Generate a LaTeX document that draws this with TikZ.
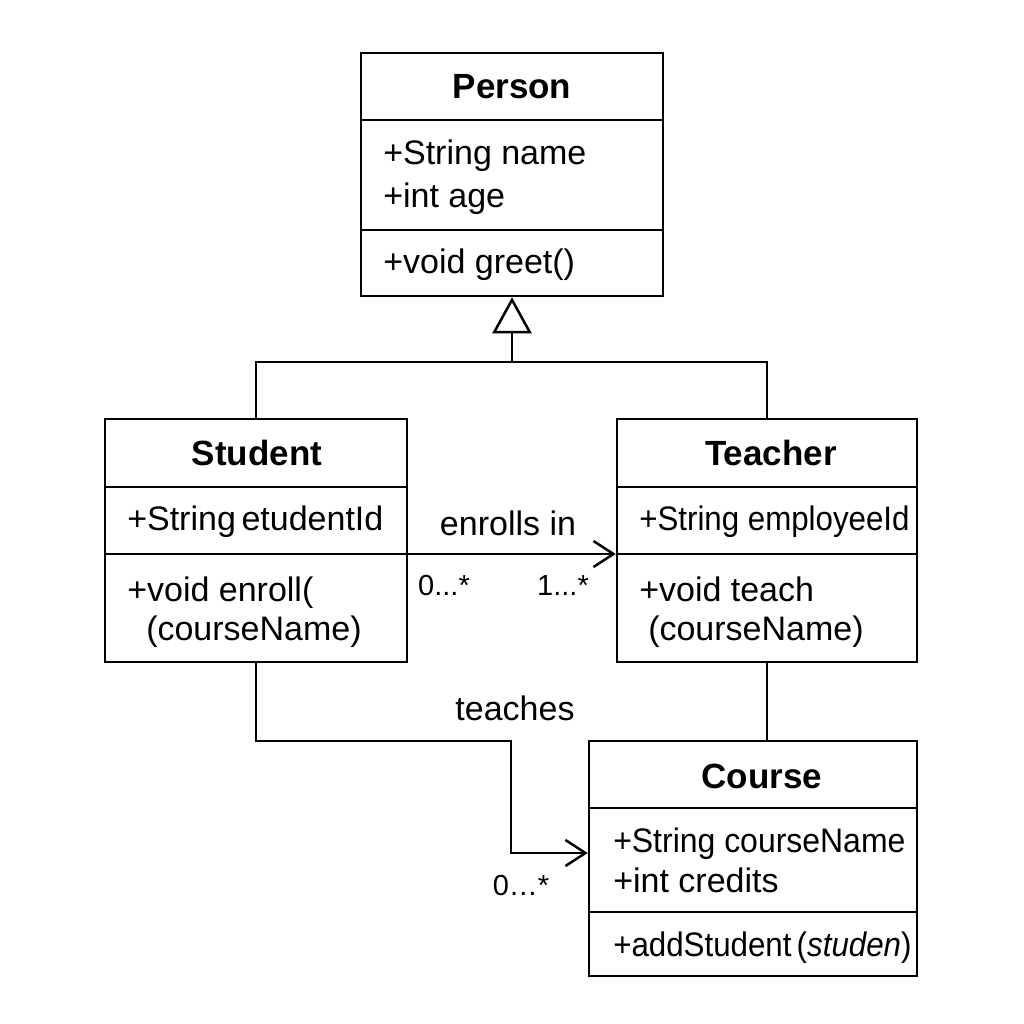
\documentclass[tikz,border=0pt]{standalone}
\usepackage{fontspec}
\setmainfont{Liberation Sans}
\usetikzlibrary{arrows.meta}

\begin{document}
\begin{tikzpicture}[line width = 2.5pt,
        classbox/.style = {draw, rectangle, inner sep = 0pt},
        title/.style = {anchor = base, font = \fontsize{35}{42}\selectfont\bfseries},
        member/.style = {anchor = base west, inner sep = 0pt, font = \fontsize{34}{40}\selectfont},
        mult/.style = {anchor = base, inner sep = 0pt, font = \fontsize{29}{34}\selectfont},
        assoc/.style = {-{Straight Barb[length = 20pt, width = 26pt]}},
        inherit/.style = {-{Triangle[open, length = 36pt, width = 39pt]}}]
        \useasboundingbox (0pt, 0pt) rectangle (1024pt, -1024pt);

        % Boxes
        \node [classbox, minimum width = 302pt, minimum height = 243pt] (person) at (512pt, -174.5pt) {};
        \node [classbox, minimum width = 302pt, minimum height = 243pt] (student) at (256pt, -540.5pt) {};
        \node [classbox, minimum width = 300pt, minimum height = 243pt] (teacher) at (767pt, -540.5pt) {};
        \node [classbox, minimum width = 328pt, minimum height = 235pt] (course) at (753pt, -858.5pt) {};

        % Dividers
        \draw (361pt, -120pt) -- (663pt, -120pt);
        \draw (361pt, -230pt) -- (663pt, -230pt);
        \draw (105pt, -487pt) -- (407pt, -487pt);
        \draw (105pt, -554pt) -- (407pt, -554pt);
        \draw (617pt, -487pt) -- (917pt, -487pt);
        \draw (617pt, -554pt) -- (917pt, -554pt);
        \draw (589pt, -808pt) -- (917pt, -808pt);
        \draw (589pt, -912pt) -- (917pt, -912pt);

        % Person
        \node [title] (ptitle) at (512pt, -99pt) {Person};
        \node [member] (pname) at (382pt, -165pt) {+String name};
        \node [member] (page) at (382pt, -208pt) {+int age};
        \node [member] (pgreet) at (382pt, -273pt) {+void greet()};

        % Student
        \node [title] (stitle) at (257pt, -465pt) {Student};
        \node [member] (sid) at (126pt, -530pt) {+String\,etudentId};
        \node [member] (senroll) at (126pt, -601pt) {+void enroll(};
        \node [member] (sarg) at (145pt, -640pt) {(courseName)};

        % Teacher
        \node [title] (ttitle) at (771pt, -465pt) {Teacher};
        \node [member] (tid) at (638pt, -530pt) {\scalebox{0.92}[1]{+String employeeId}};
        \node [member] (tteach) at (638pt, -601pt) {+void teach};
        \node [member] (targ) at (647pt, -640pt) {(courseName)};

        % Course
        \node [title] (ctitle) at (762pt, -788pt) {Course};
        \node [member] (cname) at (612pt, -852pt) {\scalebox{0.94}[1]{+String courseName}};
        \node [member] (ccredits) at (612pt, -892pt) {+int credits};
        \node [member] (cadd) at (612pt, -956pt) {\scalebox{0.92}[1]{+addStudent\,(\textit{studen})}};

        % Inheritance
        \coordinate (gen) at (512pt, -362pt);
        \draw (student.north) |- (gen) -| (teacher.north);
        \draw [inherit] (gen) -- (person.south);

        % Associations
        \draw [assoc] (student.east |- 0, -554pt) -- (teacher.west |- 0, -554pt);
        \node [above] (enrolls) at (508pt, -540pt) {\fontsize{34}{40}\selectfont enrolls in};
        \node [mult] (m1) at (444pt, -595pt) {0...*};
        \node [mult] (m2) at (563pt, -595pt) {1...*};

        \draw [assoc] (student.south) |- (511pt, -741pt) |- (course.west |- 0, -853pt);
        \node [above] (teaches) at (515pt, -725pt) {\fontsize{34}{40}\selectfont teaches};
        \node [mult] (m3) at (521pt, -895pt) {0…*};

        \draw (teacher.south) -- (teacher.south |- course.north);

\end{tikzpicture}
\end{document}
